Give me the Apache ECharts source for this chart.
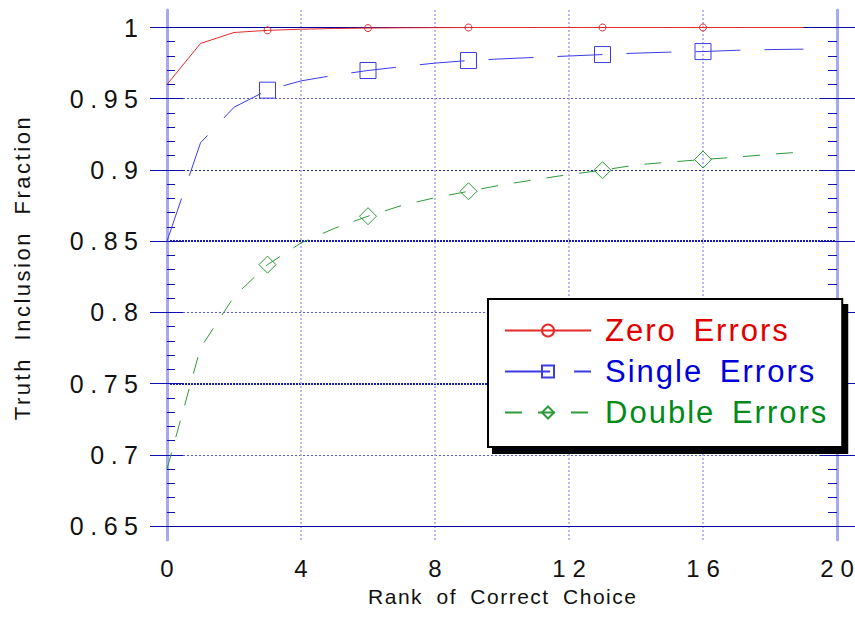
<!DOCTYPE html>
<html><head><meta charset="utf-8">
<script src="https://cdn.jsdelivr.net/npm/echarts@6/dist/echarts.min.js"></script>
<style>html,body{margin:0;padding:0;background:#fff}#chart{width:855px;height:619px}</style>
</head><body><div id="chart"></div>
<script>
// ---- data ----
const ranks = [0,1,2,3,4,5,6,7,8,9,10,11,12,13,14,15,16,17,18,19];
const zeroErrors = [0.960,0.9888,0.9965,0.998,0.9988,0.9993,0.9996,0.9998,0.9999,1.0,1.0,1.0,1.0,1.0,1.0,1.0,1.0,1.0,1.0,1.0];
const singleErrors = [0.850,0.919,0.944,0.956,0.9625,0.9665,0.9698,0.9725,0.975,0.9768,0.978,0.979,0.980,0.981,0.982,0.9827,0.9831,0.984,0.9845,0.9848];
const doubleErrors = [0.690,0.775,0.811,0.8335,0.8487,0.859,0.8675,0.875,0.8805,0.885,0.8895,0.8932,0.8968,0.8998,0.9035,0.9055,0.9073,0.909,0.911,0.9126];
const markerRanks = [3,6,9,13,16];
const seriesNames = ['Zero Errors','Single Errors','Double Errors'];
const xMin = 0, xMax = 20, xStep = 4;
const yMin = 0.65, yMax = 1, yStep = 0.05;

function toData(values, sym) {
  return ranks.map((r, i) => ({ value: [r, values[i]], symbol: markerRanks.indexOf(r) >= 0 ? sym : 'none' }));
}

const T = 'transparent';
const NAVY = '#1010b0';
const yBase = () => ({
  type: 'value', gridIndex: 0, min: yMin, max: yMax, interval: yStep,
  axisLine: { show: false }, axisLabel: { show: false }, axisTick: { show: false },
  splitLine: { show: false }, minorTick: { show: false }
});

const option = {
  animation: false,
  textStyle: { fontFamily: "'Liberation Sans', Arial, sans-serif" },
  grid: [
    { left: 167, right: 18, top: 27.5, bottom: 93 },
    { left: 167, right: 18, top: 10, bottom: 79 }
  ],
  xAxis: [
    { type: 'value', gridIndex: 0, min: xMin, max: xMax, interval: xStep,
      axisLine: { show: false }, axisTick: { show: false }, splitLine: { show: false },
      axisLabel: { fontSize: 24, color: '#111', margin: 30 },
      name: 'Rank of Correct Choice', nameLocation: 'middle', nameGap: 60,
      nameTextStyle: { fontSize: 21, color: '#111' } },
    { type: 'value', gridIndex: 1, min: xMin, max: xMax, interval: xStep,
      axisLine: { show: false }, axisTick: { show: false }, axisLabel: { show: false },
      splitLine: { show: true, showMinLine: false, showMaxLine: false,
        lineStyle: { color: '#a4a4f2', width: 1.5, type: [2, 2] } } }
  ],
  yAxis: [
    Object.assign(yBase(), {
      position: 'left', z: 3,
      axisLabel: { show: true, fontSize: 25, color: '#111', margin: 29 },
      axisTick: { show: true, inside: false, length: 17, lineStyle: { color: NAVY, width: 1 } },
      splitLine: { show: true, lineStyle: { color: ['#0000a0', T, T, T, T, T, T, '#0000a0'], width: 1, type: 'solid' } },
      name: 'Truth Inclusion Fraction', nameLocation: 'middle', nameRotate: 90, nameGap: 134,
      nameTextStyle: { fontSize: 22, color: '#111', padding: [0, 0, 0, 16] }
    }),
    Object.assign(yBase(), {
      position: 'left',
      axisTick: { show: true, inside: true, length: 16, lineStyle: { color: NAVY, width: 1 } },
      minorTick: { show: true, splitNumber: 5, length: 8, lineStyle: { color: NAVY, width: 1 } },
      splitLine: { show: true, lineStyle: { color: [T, '#5a5ae6', T, '#5a5ae6', T, '#202098', '#5a5ae6', T], width: 1, type: [2, 2] } }
    }),
    Object.assign(yBase(), {
      position: 'left',
      splitLine: { show: true, lineStyle: { color: [T, T, '#1a1ab8', T, '#1a1ab8', T, T, T], width: 2, type: [2, 1] } }
    }),
    Object.assign(yBase(), {
      position: 'right',
      axisTick: { show: true, inside: false, length: 18, lineStyle: { color: NAVY, width: 1 } }
    }),
    Object.assign(yBase(), {
      position: 'right',
      axisTick: { show: true, inside: true, length: 17, lineStyle: { color: NAVY, width: 1 } },
      minorTick: { show: true, splitNumber: 5, length: 9, lineStyle: { color: NAVY, width: 1 } }
    }),
    { type: 'value', gridIndex: 1, min: 0, max: 1, position: 'left',
      axisLine: { show: true, lineStyle: { color: '#a8a8f2', width: 3 } },
      axisLabel: { show: false }, axisTick: { show: false }, splitLine: { show: false } },
    { type: 'value', gridIndex: 1, min: 0, max: 1, position: 'right',
      axisLine: { show: true, lineStyle: { color: '#a8a8f2', width: 3 } },
      axisLabel: { show: false }, axisTick: { show: false }, splitLine: { show: false } }
  ],
  legend: {
    orient: 'vertical', left: 488, top: 299, itemWidth: 86, itemHeight: 15, itemGap: 10,
    padding: [16, 46, 19, 16], backgroundColor: '#fff', borderColor: '#000', borderWidth: 2,
    shadowColor: '#000', shadowBlur: 0, shadowOffsetX: 5, shadowOffsetY: 6,
    selectedMode: false,
    textStyle: { fontSize: 31, lineHeight: 30, padding: [0, 0, 0, 9] },
    data: [
      { name: seriesNames[0], textStyle: { color: '#e00000' } },
      { name: seriesNames[1], textStyle: { color: '#0000d8' } },
      { name: seriesNames[2], textStyle: { color: '#008a1a' } }
    ]
  },
  series: [
    { name: seriesNames[0], type: 'line', xAxisIndex: 0, yAxisIndex: 0,
      data: toData(zeroErrors, 'circle'), symbol: 'circle', symbolSize: 7, showAllSymbol: true,
      lineStyle: { color: '#e52a2a', width: 1 },
      itemStyle: { color: T, borderColor: '#e52a2a', borderWidth: 1 } },
    { name: seriesNames[1], type: 'line', xAxisIndex: 0, yAxisIndex: 0,
      data: toData(singleErrors, 'rect'), symbol: 'rect', symbolSize: 16, showAllSymbol: true,
      lineStyle: { color: '#3c3ce2', width: 1, type: [45, 24] },
      itemStyle: { color: T, borderColor: '#3c3ce2', borderWidth: 1 } },
    { name: seriesNames[2], type: 'line', xAxisIndex: 0, yAxisIndex: 0,
      data: toData(doubleErrors, 'diamond'), symbol: 'diamond', symbolSize: 17, showAllSymbol: true,
      lineStyle: { color: '#2e9a3a', width: 1, type: [17, 16] },
      itemStyle: { color: T, borderColor: '#2e9a3a', borderWidth: 1 } }
  ]
};

const chart = echarts.init(document.getElementById('chart'), null, { renderer: 'svg' });
chart.setOption(option);

// widen the character spacing to match the original typesetting
// (per-glyph dx shifts, so no trailing space is added after the last glyph)
function applySpacing() {
  document.querySelectorAll('#chart svg text').forEach(t => {
    const s = t.textContent;
    let ls = 0, ws = 0;
    if (/^[0-9.]+$/.test(s)) { ls = (s.indexOf('.') >= 0 || s === '1') ? 6.5 : 7; }
    else if (s.indexOf('Errors') >= 0) { ls = 2; ws = 6; }
    else if (s.indexOf('Truth') >= 0) { ls = 2.5; ws = 8; }
    else if (s.indexOf('Rank') >= 0) { ls = 1.5; ws = 6; }
    if (!ls && !ws) return;
    const chars = Array.from(s);
    const dx = chars.map((c, i) => i === 0 ? 0 : ls + (chars[i - 1] === ' ' ? ws : 0));
    t.setAttribute('dx', dx.join(' '));
  });
}
applySpacing();
chart.on('finished', applySpacing);
</script></body></html>
